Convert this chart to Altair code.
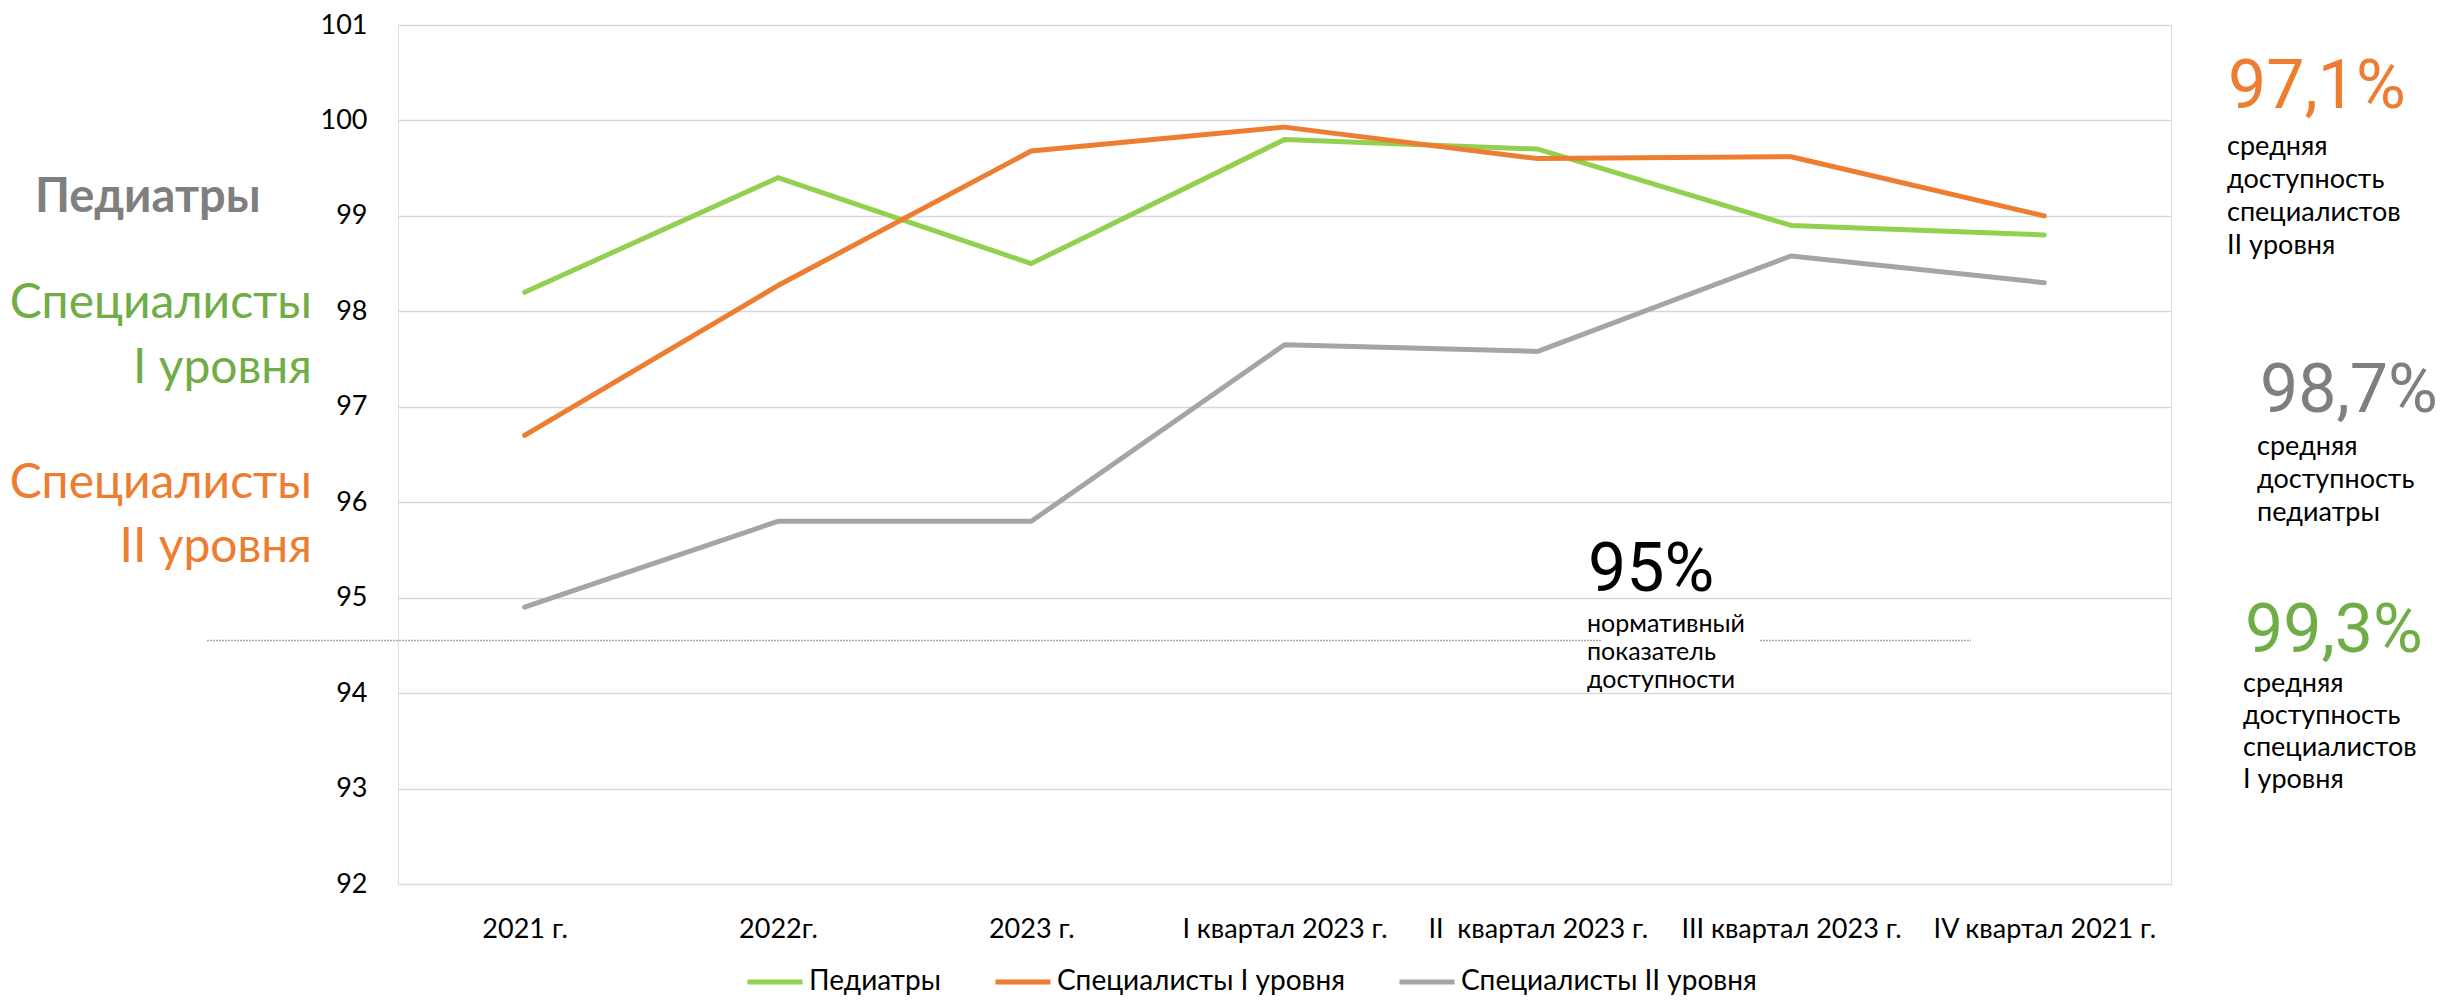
import altair as alt
import pandas as pd

# ---- data ----
categories = ["2021 г.", "2022г.", "2023 г.", "I квартал 2023 г.",
              "II\u00a0 квартал 2023 г.", "III квартал 2023 г.", "IV квартал 2021 г."]
series_names = ["Педиатры", "Специалисты I уровня", "Специалисты II уровня"]
pediatrics = [98.2, 99.4, 98.5, 99.8, 99.7, 98.9, 98.8]
spec_level1 = [96.7, 98.27, 99.68, 99.93, 99.6, 99.62, 99.0]
spec_level2 = [94.9, 95.8, 95.8, 97.65, 97.58, 98.58, 98.3]
series_colors = ["#92d050", "#ed7d31", "#a5a5a5"]
y_ticks = [92, 93, 94, 95, 96, 97, 98, 99, 100, 101]
norm_value = 94.55

left_label_ped = "Педиатры"
left_label_s1 = ["Специалисты", "I уровня"]
left_label_s2 = ["Специалисты", "II уровня"]
big_s2 = "97,1%"
text_s2 = ["средняя", "доступность", "специалистов", "II уровня"]
big_ped = "98,7%"
text_ped = ["средняя", "доступность", "педиатры"]
big_s1 = "99,3%"
text_s1 = ["средняя", "доступность", "специалистов", "I уровня"]
big_norm = "95%"
text_norm = ["нормативный", "показатель", "доступности"]

rows = []
for name, vals in zip(series_names, [pediatrics, spec_level1, spec_level2]):
    for c, v in zip(categories, vals):
        rows.append({"cat": c, "series": name, "value": v})
df = pd.DataFrame(rows)

FONT = "Lato"
NARROW = "Roboto"

lines = alt.Chart(df).mark_line(strokeWidth=5, strokeCap="round", strokeJoin="round").encode(
    x=alt.X("cat:N", sort=categories, title=None,
            scale=alt.Scale(type="point", padding=0.5),
            axis=alt.Axis(labelAngle=0, grid=False, domain=False, ticks=False, tickSize=0,
                          labelFont=FONT, labelFontSize=27, labelColor="black",
                          labelBaseline="alphabetic", labelPadding=53, labelLimit=0)),
    y=alt.Y("value:Q", title=None,
            scale=alt.Scale(domain=[92, 101], nice=False, zero=False),
            axis=alt.Axis(values=y_ticks, format="d", grid=True, gridColor="#d9d9d9",
                          gridWidth=1.5, domain=False, ticks=False, tickSize=0,
                          labelFont=FONT, labelFontSize=27, labelColor="black",
                          labelPadding=31)),
    color=alt.Color("series:N", sort=series_names,
                    scale=alt.Scale(domain=series_names, range=series_colors),
                    legend=alt.Legend(title=None, orient="none", direction="horizontal",
                                      legendX=347, legendY=927, symbolType="stroke",
                                      symbolSize=3025, symbolStrokeWidth=5,
                                      labelFont=FONT, labelFontSize=28, labelColor="black",
                                      labelLimit=0, columnPadding=44, labelOffset=4)),
)

dummy = pd.DataFrame({"a": [0]})


def note(text, x, y, size, color, font=FONT, weight="normal", align="left", lh=None):
    kw = dict(text=text, fontSize=size, color=color, font=font, fontWeight=weight,
              align=align, baseline="alphabetic")
    if lh is not None:
        kw["lineHeight"] = lh
    return alt.Chart(dummy).mark_text(**kw).encode(x=alt.value(x), y=alt.value(y))


rule1 = alt.Chart(dummy).mark_rule(color="#a6a6a6", strokeWidth=1.5, strokeDash=[2, 1]).encode(
    x=alt.value(-191), x2=alt.value(1204), y=alt.datum(norm_value))
rule2 = alt.Chart(dummy).mark_rule(color="#a6a6a6", strokeWidth=1.5, strokeDash=[2, 1]).encode(
    x=alt.value(1362), x2=alt.value(1573), y=alt.datum(norm_value))

notes = [
    note(left_label_ped, -363, 187, 47, "#7f7f7f", weight="bold"),
    note(left_label_s1, -86, 293, 48, "#70ad47", align="right", lh=65),
    note(left_label_s2, -86, 473, 48, "#ed7d31", align="right", lh=64),
    note(big_s2, 1830, 83, 68, "#ed7d31", font=NARROW),
    note(text_s2, 1829, 130, 27, "black", lh=33),
    note(big_ped, 1862, 387, 68, "#7f7f7f", font=NARROW),
    note(text_ped, 1859, 430, 27, "black", lh=33),
    note(big_s1, 1847, 627, 68, "#70ad47", font=NARROW),
    note(text_s1, 1845, 667, 27, "black", lh=32),
    note(big_norm, 1190, 566, 68, "black", font=NARROW),
    note(text_norm, 1189, 607, 25, "black", lh=28),
]

chart = alt.layer(rule1, rule2, lines, *notes).properties(
    width=1773, height=859,
    autosize=alt.AutoSizeParams(type="none"),
    padding={"left": 390, "top": 17, "right": 279, "bottom": 112},
).configure_view(stroke=None).configure(background="white")

chart.save("out.html", embed_options={"renderer": "svg", "actions": False})
